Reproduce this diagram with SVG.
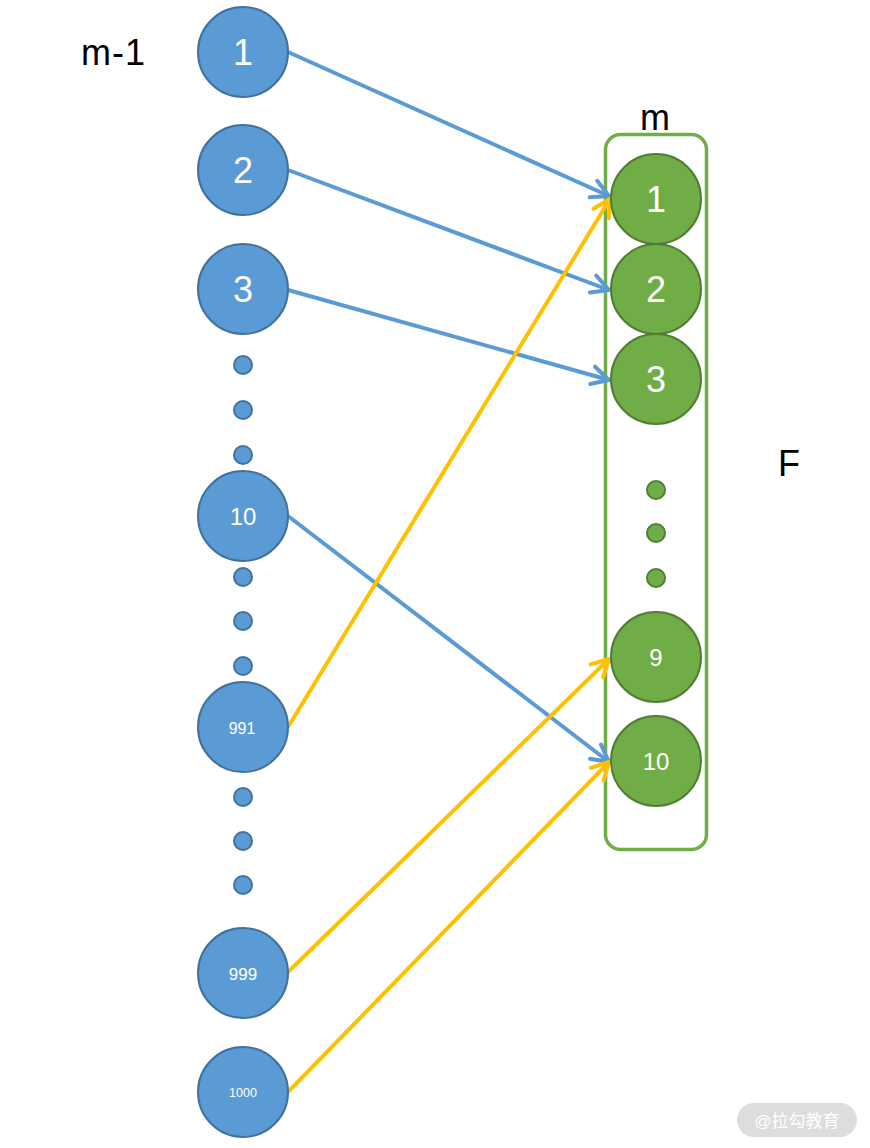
<svg xmlns="http://www.w3.org/2000/svg" width="870" height="1148" viewBox="0 0 870 1148">
<style>
.bn{fill:#5b9bd5;stroke:#41719c;stroke-width:2}
.gn{fill:#70ad47;stroke:#507e32;stroke-width:2}
.lb{fill:#ffffff;font-family:"Liberation Sans",Arial,sans-serif;text-anchor:middle}
.tt{fill:#000000;font-family:"Liberation Sans",Arial,sans-serif;font-size:36px}
.eb{fill:none;stroke:#5b9bd5;stroke-width:4}
.ey{fill:none;stroke:#ffc000;stroke-width:4}
</style>
<defs>
<marker id="ab" markerUnits="userSpaceOnUse" viewBox="-20 -12 24 24" markerWidth="24" markerHeight="24" refX="0" refY="0" orient="auto">
<path d="M-17,-9 L0,0 L-17,9" fill="none" stroke="#5b9bd5" stroke-width="4" stroke-linecap="round" stroke-linejoin="round"/>
</marker>
<marker id="ay" markerUnits="userSpaceOnUse" viewBox="-20 -12 24 24" markerWidth="24" markerHeight="24" refX="0" refY="0" orient="auto">
<path d="M-17,-9 L0,0 L-17,9" fill="none" stroke="#ffc000" stroke-width="4" stroke-linecap="round" stroke-linejoin="round"/>
</marker>
</defs>
<rect width="870" height="1148" fill="#ffffff"/>
<text class="tt" x="81" y="65" textLength="64">m-1</text>
<text class="tt" x="640" y="130">m</text>
<text class="tt" x="778" y="476">F</text>
<rect id="groupF" x="605.5" y="134.5" width="101" height="715" rx="15" fill="none" stroke="#70ad47" stroke-width="3.5"/>
<g id="connectors">
<line class="eb" x1="288" y1="52" x2="609" y2="196" marker-end="url(#ab)"/>
<line class="eb" x1="288" y1="170" x2="609" y2="290" marker-end="url(#ab)"/>
<line class="eb" x1="288" y1="290" x2="609" y2="380" marker-end="url(#ab)"/>
<line class="eb" x1="288" y1="516" x2="609" y2="762" marker-end="url(#ab)"/>
<line class="ey" x1="288" y1="727" x2="610" y2="199" marker-end="url(#ay)"/>
<line class="ey" x1="288" y1="972" x2="609" y2="659" marker-end="url(#ay)"/>
<line class="ey" x1="288" y1="1092" x2="609" y2="762" marker-end="url(#ay)"/>
</g>
<g id="b1"><circle class="bn" cx="243" cy="52" r="45"/><text class="lb" x="243" y="65" font-size="36">1</text></g>
<g id="b2"><circle class="bn" cx="243" cy="170" r="45"/><text class="lb" x="243" y="183" font-size="36">2</text></g>
<g id="b3"><circle class="bn" cx="243" cy="289" r="45"/><text class="lb" x="243" y="302" font-size="36">3</text></g>
<g id="bdots1"><circle class="bn" cx="243" cy="365" r="9"/><circle class="bn" cx="243" cy="410" r="9"/><circle class="bn" cx="243" cy="455" r="9"/></g>
<g id="b10"><circle class="bn" cx="243" cy="516" r="45"/><text class="lb" x="243" y="525" font-size="24">10</text></g>
<g id="bdots2"><circle class="bn" cx="243" cy="577" r="9"/><circle class="bn" cx="243" cy="621" r="9"/><circle class="bn" cx="243" cy="666" r="9"/></g>
<g id="b991"><circle class="bn" cx="243" cy="727" r="45"/><text class="lb" x="242" y="734" font-size="16">991</text></g>
<g id="bdots3"><circle class="bn" cx="243" cy="797" r="9"/><circle class="bn" cx="243" cy="841" r="9"/><circle class="bn" cx="243" cy="885" r="9"/></g>
<g id="b999"><circle class="bn" cx="243" cy="973" r="45"/><text class="lb" x="243" y="980" font-size="17">999</text></g>
<g id="b1000"><circle class="bn" cx="243" cy="1092" r="45"/><text class="lb" x="243" y="1097" font-size="12.5">1000</text></g>
<g id="g1"><circle class="gn" cx="656" cy="199" r="45"/><text class="lb" x="656" y="212" font-size="36">1</text></g>
<g id="g2"><circle class="gn" cx="656" cy="289" r="45"/><text class="lb" x="656" y="302" font-size="36">2</text></g>
<g id="g3"><circle class="gn" cx="656" cy="379" r="45"/><text class="lb" x="656" y="392" font-size="36">3</text></g>
<g id="gdots"><circle class="gn" cx="656" cy="490" r="9"/><circle class="gn" cx="656" cy="533" r="9"/><circle class="gn" cx="656" cy="578" r="9"/></g>
<g id="g9"><circle class="gn" cx="656" cy="657" r="45"/><text class="lb" x="656" y="666" font-size="24">9</text></g>
<g id="g10"><circle class="gn" cx="656" cy="761" r="45"/><text class="lb" x="656" y="770" font-size="24">10</text></g>
<g id="watermark"><rect x="737" y="1103" width="120" height="34" rx="17" fill="#dddddd"/><text x="797" y="1127" font-size="17" fill="#ffffff" text-anchor="middle" font-family="'Liberation Sans','Noto Sans CJK SC',sans-serif">@拉勾教育</text></g>
</svg>
